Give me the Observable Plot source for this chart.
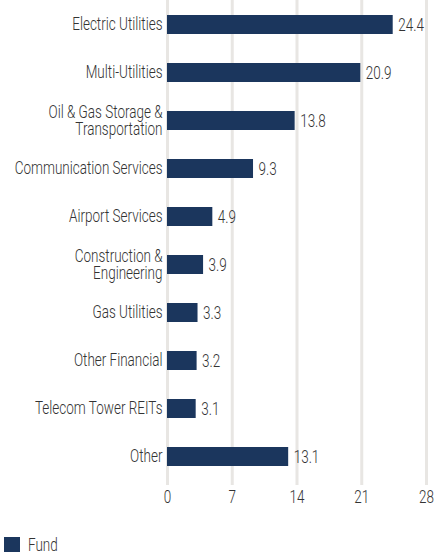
<!DOCTYPE html>
<html><head><meta charset="utf-8">
<script src="https://cdn.jsdelivr.net/npm/d3@7"></script>
<script src="https://cdn.jsdelivr.net/npm/@observablehq/plot@0.6"></script>
<style>
html,body{margin:0;background:#fff;font-family:Roboto,sans-serif;overflow:hidden;}
#legend{display:flex;align-items:center;height:17px;margin-top:4px;margin-left:4px;color:#333;font-size:18px;font-weight:300;line-height:17px;}
#legend span.sw{display:inline-block;width:16px;height:15px;background:#1b365d;margin-right:8px;}
#legend span.lb{display:inline-block;transform:scaleX(0.75);transform-origin:left center;}
</style></head>
<body><div id="chart"></div>
<div id="legend"><span class="sw"></span><span class="lb">Fund</span></div>
<script>
const categories = ["Electric Utilities","Multi-Utilities","Oil & Gas Storage &\nTransportation","Communication Services","Airport Services","Construction &\nEngineering","Gas Utilities","Other Financial","Telecom Tower REITs","Other"];
const values = [24.4,20.9,13.8,9.3,4.9,3.9,3.3,3.2,3.1,13.1];
const xTicks = [0,7,14,21,28];
const seriesName = "Fund";
const data = categories.map((c,i)=>({category:c, value:values[i]}));
const chart = Plot.plot({
  width:437, height:532,
  marginTop:0, marginBottom:52, marginLeft:167, marginRight:11,
  style:{fontFamily:"Roboto, sans-serif", fontSize:"18px", fontWeight:300, color:"#333", background:"#fff"},
  x:{domain:[0,28], ticks:xTicks},
  y:{domain:categories, paddingInner:0.61, paddingOuter:0.25},
  marks:[
    Plot.ruleX(xTicks, {stroke:"#e8e6e3", strokeWidth:3, strokeOpacity:1, insetBottom:-5}),
    Plot.barX(data, {y:"category", x:"value", fill:"#1b365d"}),
    Plot.text(data, {y:"category", x:"value", text:d=>d.value.toFixed(1), textAnchor:"start", dx:5, fill:"#333", fontSize:18}),
    Plot.axisY({tickSize:0, tickPadding:5, label:null, fontSize:18, lineHeight:0.95, fill:"#333"}),
    Plot.axisX({ticks:xTicks, tickSize:0, tickPadding:10, label:null, fontSize:18, fill:"#333"})
  ]
});
// condense text horizontally about each label's anchor
chart.querySelectorAll("text").forEach(t => {
  const tr = t.getAttribute("transform");
  if (tr) {
    t.setAttribute("transform", tr + " scale(0.75,1)");
  } else {
    const x = +(t.getAttribute("x") || 0), y = +(t.getAttribute("y") || 0);
    t.setAttribute("x", 0); t.setAttribute("y", 0);
    t.setAttribute("transform", `translate(${x},${y}) scale(0.75,1)`);
  }
});
document.getElementById("chart").appendChild(chart);
</script></body></html>
